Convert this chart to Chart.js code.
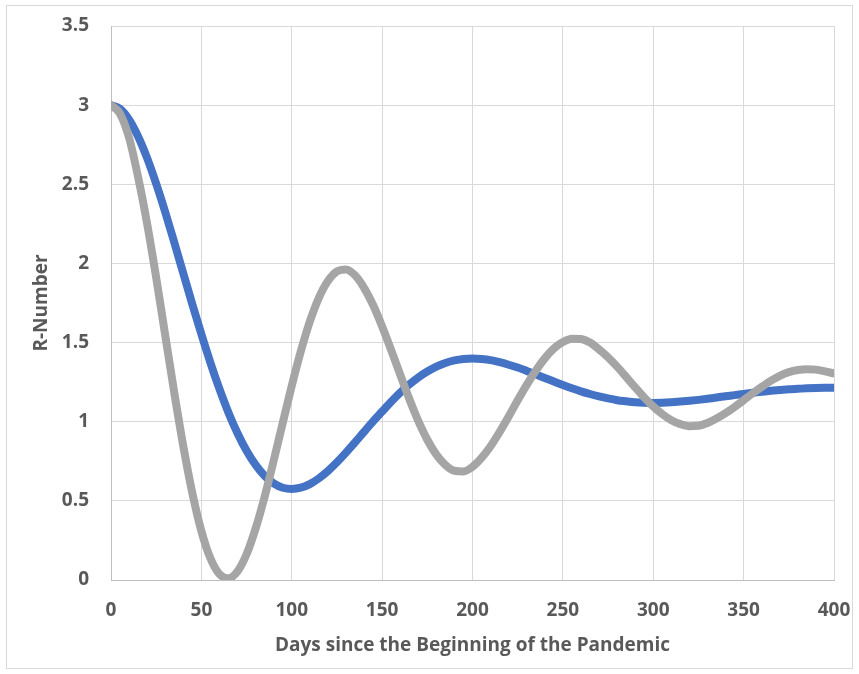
<!DOCTYPE html>
<html>
<head>
<meta charset="utf-8">
<script src="https://cdn.jsdelivr.net/npm/chart.js@4.4.1/dist/chart.umd.min.js"></script>
<style>
  body { margin: 0; background: #fff; }
  #wrap { position: relative; width: 859px; height: 674px; }
  #frame { position: absolute; left: 6px; top: 5px; width: 845px; height: 662px; border: 1px solid #d9d9d9; }
  canvas { position: absolute; left: 0; top: 0; }
</style>
</head>
<body>
<div id="wrap">
  <div id="frame"></div>
  <canvas id="rChart" width="859" height="674"></canvas>
</div>
<script>
// days since start, one reading every 5 days
const days = [0, 5, 10, 15, 20, 25, 30, 35, 40, 45, 50, 55, 60, 65, 70, 75, 80, 85, 90, 95,
  100, 105, 110, 115, 120, 125, 130, 135, 140, 145, 150, 155, 160, 165, 170, 175, 180, 185, 190, 195,
  200, 205, 210, 215, 220, 225, 230, 235, 240, 245, 250, 255, 260, 265, 270, 275, 280, 285, 290, 295,
  300, 305, 310, 315, 320, 325, 330, 335, 340, 345, 350, 355, 360, 365, 370, 375, 380, 385, 390, 395, 400];

// blue series (slow swing)
const slowR = [3.000, 2.976, 2.908, 2.802, 2.665, 2.503, 2.324, 2.133, 1.937, 1.742,
  1.553, 1.373, 1.207, 1.057, 0.927, 0.816, 0.727, 0.658, 0.611, 0.583,
  0.575, 0.583, 0.606, 0.642, 0.689, 0.744, 0.805, 0.869, 0.936, 1.002,
  1.064, 1.126, 1.184, 1.235, 1.280, 1.317, 1.348, 1.371, 1.387, 1.396,
  1.399, 1.396, 1.389, 1.376, 1.360, 1.342, 1.321, 1.299, 1.276, 1.254,
  1.232, 1.211, 1.192, 1.175, 1.160, 1.147, 1.136, 1.129, 1.123, 1.120,
  1.119, 1.120, 1.123, 1.127, 1.132, 1.138, 1.145, 1.153, 1.161, 1.168,
  1.176, 1.183, 1.189, 1.195, 1.200, 1.205, 1.208, 1.211, 1.213, 1.214, 1.214];

// grey series (fast swing)
const fastR = [3.000, 2.946, 2.794, 2.545, 2.250, 1.910, 1.546, 1.184, 0.845, 0.549,
  0.309, 0.137, 0.037, 0.011, 0.055, 0.163, 0.325, 0.526, 0.754, 0.992,
  1.227, 1.444, 1.633, 1.783, 1.889, 1.950, 1.962, 1.925, 1.846, 1.737,
  1.602, 1.452, 1.297, 1.145, 1.005, 0.886, 0.792, 0.727, 0.690, 0.686,
  0.715, 0.771, 0.845, 0.935, 1.033, 1.135, 1.233, 1.322, 1.400, 1.462,
  1.503, 1.524, 1.522, 1.500, 1.457, 1.407, 1.348, 1.283, 1.217, 1.153,
  1.096, 1.048, 1.010, 0.985, 0.972, 0.974, 0.992, 1.020, 1.054, 1.093,
  1.136, 1.179, 1.220, 1.258, 1.290, 1.313, 1.327, 1.332, 1.329, 1.318, 1.305];

const xTicks = [0, 50, 100, 150, 200, 250, 300, 350, 400];
const yTicks = [0, 0.5, 1, 1.5, 2, 2.5, 3, 3.5];

const labelFont = { family: "'Open Sans', sans-serif", size: 19, weight: 'bold' };
const textColor = '#595959';

function toPoints(values) {
  return values.map((v, i) => ({ x: days[i], y: v }));
}

new Chart(document.getElementById('rChart'), {
  type: 'line',
  data: {
    datasets: [
      {
        label: 'Series1',
        data: toPoints(slowR),
        borderColor: '#4472C4',
        borderWidth: 8,
        borderCapStyle: 'round',
        borderJoinStyle: 'round',
        cubicInterpolationMode: 'monotone',
        pointRadius: 0,
        order: 2
      },
      {
        label: 'Series2',
        data: toPoints(fastR),
        borderColor: '#A5A5A5',
        borderWidth: 8,
        borderCapStyle: 'round',
        borderJoinStyle: 'round',
        cubicInterpolationMode: 'monotone',
        pointRadius: 0,
        order: 1
      }
    ]
  },
  options: {
    responsive: false,
    animation: false,
    layout: { padding: { left: 6, right: 25, top: 26, bottom: 0 } },
    plugins: { legend: { display: false }, tooltip: { enabled: false } },
    scales: {
      x: {
        type: 'linear',
        min: 0,
        max: 400,
        afterBuildTicks: s => { s.ticks = xTicks.map(v => ({ value: v })); },
        // fixed box so the plot area lands where the original's does
        afterFit: s => { s.height = 94; s.paddingLeft = 0; s.paddingRight = 0; },
        grid: { color: '#d9d9d9', drawTicks: false },
        border: { color: '#bfbfbf' },
        ticks: { font: labelFont, color: textColor, padding: 19, maxRotation: 0, callback: v => String(v) },
        title: {
          display: true,
          text: 'Days since the Beginning of the Pandemic',
          font: labelFont,
          color: textColor,
          padding: { top: 0, bottom: 17 }
        }
      },
      y: {
        min: 0,
        max: 3.5,
        afterBuildTicks: s => { s.ticks = yTicks.map(v => ({ value: v })); },
        afterFit: s => { s.width = 105; s.paddingTop = 0; s.paddingBottom = 0; },
        grid: { color: '#d9d9d9', drawTicks: false },
        border: { color: '#bfbfbf' },
        ticks: { font: labelFont, color: textColor, padding: 22, callback: v => String(v) },
        title: {
          display: true,
          text: 'R-Number',
          font: labelFont,
          color: textColor,
          padding: { top: 24, bottom: 0 }
        }
      }
    }
  }
});
</script>
</body>
</html>
